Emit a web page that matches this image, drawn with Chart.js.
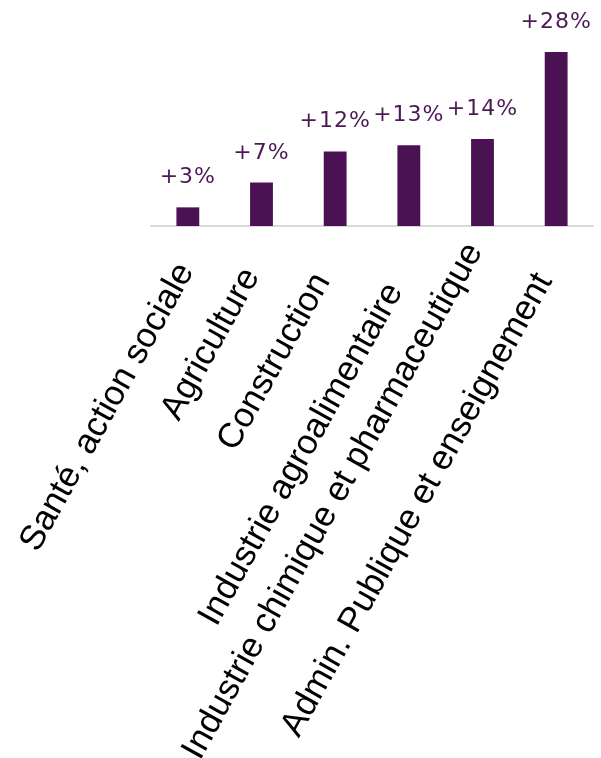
<!DOCTYPE html>
<html>
<head>
<meta charset="utf-8">
<script src="https://cdn.jsdelivr.net/npm/chart.js@4.4.1/dist/chart.umd.min.js"></script>
<style>
  html, body { margin: 0; padding: 0; background: #fff; }
  #wrap { width: 601px; height: 758px; }
</style>
</head>
<body>
<div id="wrap"><canvas id="chart"></canvas></div>
<script>
const sectors = [
    'Santé, action sociale',
    'Agriculture',
    'Construction',
    'Industrie agroalimentaire',
    'Industrie chimique et pharmaceutique',
    'Admin. Publique et enseignement'
];
const growth = [3, 7, 12, 13, 14, 28];

const barColor = '#4a1252';
const labelAngle = 61;
// small per-label offsets (px) of the rotated category labels, the source is uneven
const labelNudgeX = [-2, -10, -13, -14, -8, -12];
const labelNudgeY = [-10, -5, 0, 10, -30, 0];

// draws the "+x%" above each bar
const valueLabels = {
    id: 'valueLabels',
    afterDatasetsDraw(chart) {
        const ctx = chart.ctx;
        const meta = chart.getDatasetMeta(0);
        ctx.save();
        ctx.fillStyle = '#4b1a55';
        ctx.font = '22px "DejaVu Sans"';
        ctx.letterSpacing = '1px';
        ctx.textAlign = 'center';
        ctx.textBaseline = 'alphabetic';
        meta.data.forEach((bar, i) => {
            ctx.fillText('+' + growth[i] + '%', bar.x, bar.y - 24);
        });
        ctx.restore();
    }
};

// rotated category labels under the axis
const categoryLabels = {
    id: 'categoryLabels',
    afterDraw(chart) {
        const ctx = chart.ctx;
        const xs = chart.scales.x;
        ctx.save();
        ctx.fillStyle = '#000';
        ctx.font = '35px "Liberation Sans", Arial';
        ctx.textAlign = 'right';
        ctx.textBaseline = 'middle';
        sectors.forEach((name, i) => {
            ctx.save();
            ctx.translate(xs.getPixelForTick(i) + labelNudgeX[i], xs.top + 50 + labelNudgeY[i]);
            ctx.rotate(-labelAngle * Math.PI / 180);
            ctx.fillText(name, 0, 0);
            ctx.restore();
        });
        ctx.restore();
    }
};

new Chart(document.getElementById('chart'), {
    type: 'bar',
    data: {
        labels: sectors,
        datasets: [{
            data: growth,
            backgroundColor: barColor,
            categoryPercentage: 1,
            barPercentage: 0.31
        }]
    },
    options: {
        responsive: true,
        maintainAspectRatio: false,
        animation: false,
        layout: {
            padding: { left: 151, right: 8, top: 52, bottom: 0 }
        },
        plugins: {
            legend: { display: false },
            tooltip: { enabled: false }
        },
        scales: {
            x: {
                grid: { display: false, drawTicks: false },
                border: { display: true, color: '#d9d9d9', width: 2 },
                ticks: { display: false },
                afterFit(scale) {
                    scale.height = 758 - 226;
                    scale.paddingLeft = 0;
                    scale.paddingRight = 0;
                }
            },
            y: {
                display: false,
                min: 0,
                max: 28
            }
        }
    },
    plugins: [valueLabels, categoryLabels]
});
</script>
</body>
</html>
